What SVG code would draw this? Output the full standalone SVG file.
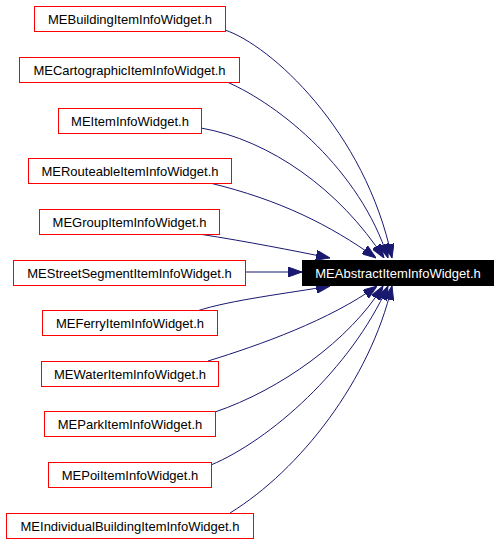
<svg xmlns="http://www.w3.org/2000/svg" width="499" height="544" viewBox="0 0 499 544">
<defs>
<style>
.n rect{fill:#fff;stroke:#ff0000;stroke-width:1}
.n text{font-family:"Liberation Sans",Arial,sans-serif;font-size:13px;fill:#000;text-anchor:middle}
#main rect{fill:#000;stroke:#000}
#main text{fill:#fff}
.e path{fill:none;stroke:#191970;stroke-width:1;marker-end:url(#ah)}
</style>
<marker id="ah" markerUnits="userSpaceOnUse" markerWidth="14" markerHeight="10" refX="14" refY="5" orient="auto">
<path d="M0,0 L14,5 L0,10 z" fill="#191970" stroke="#191970" stroke-width="1"/>
</marker>
</defs>
<rect width="499" height="544" fill="#fff"/>
<g id="edges" class="e">
<path d="M225,30 C270,45 365,130 392,258"/>
<path d="M227,82 C280,105 360,170 388,258"/>
<path d="M201,128 C270,140 340,190 384,258"/>
<path d="M210,183 C280,200 330,225 376,258"/>
<path d="M199,234 C250,242 290,250 330,258"/>
<path d="M245,272 L302,272"/>
<path d="M197,311 C230,300 290,293 330,286"/>
<path d="M208,361 C260,345 330,320 377,286"/>
<path d="M215,412 C280,390 350,340 383,286"/>
<path d="M211,465 C270,440 350,370 388,286"/>
<path d="M230,513 C300,470 370,380 392,286"/>
</g>
<g id="main" class="n"><rect x="302.5" y="260.5" width="191" height="25"/><text x="398" y="277.5">MEAbstractItemInfoWidget.h</text></g>
<g id="n1" class="n"><rect x="34.5" y="6.5" width="191" height="25"/><text x="130" y="23.5">MEBuildingItemInfoWidget.h</text></g>
<g id="n2" class="n"><rect x="19.5" y="57.5" width="220" height="25"/><text x="129.5" y="74.5">MECartographicItemInfoWidget.h</text></g>
<g id="n3" class="n"><rect x="58.5" y="108.5" width="143" height="25"/><text x="130" y="125.5">MEItemInfoWidget.h</text></g>
<g id="n4" class="n"><rect x="28.5" y="158.5" width="203" height="25"/><text x="130" y="175.5">MERouteableItemInfoWidget.h</text></g>
<g id="n5" class="n"><rect x="39.5" y="209.5" width="180" height="25"/><text x="129.5" y="226.5">MEGroupItemInfoWidget.h</text></g>
<g id="n6" class="n"><rect x="13.5" y="260.5" width="232" height="25"/><text x="129.5" y="277.5">MEStreetSegmentItemInfoWidget.h</text></g>
<g id="n7" class="n"><rect x="42.5" y="310.5" width="175" height="25"/><text x="130" y="327.5">MEFerryItemInfoWidget.h</text></g>
<g id="n8" class="n"><rect x="41.5" y="361.5" width="177" height="25"/><text x="130" y="378.5">MEWaterItemInfoWidget.h</text></g>
<g id="n9" class="n"><rect x="44.5" y="411.5" width="171" height="25"/><text x="130" y="428.5">MEParkItemInfoWidget.h</text></g>
<g id="n10" class="n"><rect x="48.5" y="462.5" width="163" height="25"/><text x="130" y="479.5">MEPoiItemInfoWidget.h</text></g>
<g id="n11" class="n"><rect x="6.5" y="513.5" width="247" height="25"/><text x="130" y="530.5">MEIndividualBuildingItemInfoWidget.h</text></g>
</svg>
